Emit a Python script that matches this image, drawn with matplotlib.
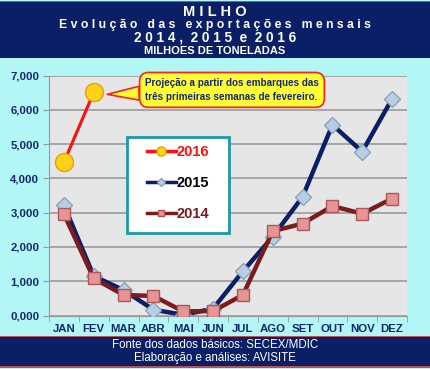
import matplotlib
matplotlib.use("Agg")
import matplotlib.pyplot as plt
from matplotlib.patches import Rectangle
from matplotlib.ticker import FixedLocator, FuncFormatter

months = ["JAN", "FEV", "MAR", "ABR", "MAI", "JUN", "JUL", "AGO", "SET", "OUT", "NOV", "DEZ"]
y2016 = [4.47, 6.51]
y2015 = [3.22, 1.15, 0.74, 0.17, 0.02, 0.20, 1.29, 2.30, 3.46, 5.56, 4.78, 6.32]
y2014 = [2.96, 1.08, 0.60, 0.57, 0.12, 0.13, 0.60, 2.46, 2.68, 3.19, 2.97, 3.41]
yticks = [0, 1, 2, 3, 4, 5, 6, 7]

plt.rcParams['font.family'] = ['Liberation Sans', 'DejaVu Sans']

W, H = 430, 369
fig = plt.figure(figsize=(W/100, H/100), dpi=100)
fig.patch.set_facecolor('#b2f6f6')

navy = '#0a1f66'
# top banner
fig.patches.append(Rectangle((0, 1 - 58/H), 1, 56/H, transform=fig.transFigure,
                             facecolor=navy, edgecolor='none', zorder=0))
fig.patches.append(Rectangle((0, 1 - 2/H), 1, 1.5/H, transform=fig.transFigure,
                             facecolor='#c0504d', edgecolor='none', zorder=0))
# bottom banner
fig.patches.append(Rectangle((0, 3/H), 1, 29/H, transform=fig.transFigure,
                             facecolor=navy, edgecolor='none', zorder=0))
fig.patches.append(Rectangle((0, 32/H), 1, 1.5/H, transform=fig.transFigure,
                             facecolor='#c0504d', edgecolor='none', zorder=0))
fig.patches.append(Rectangle((0, 1.5/H), 1, 1.5/H, transform=fig.transFigure,
                             facecolor='#c0504d', edgecolor='none', zorder=0))

def ftxt(y, s, size, **kw):
    fig.text(0.5, 1 - y/H, s, ha='center', va='center', color='white',
             fontsize=size, fontweight='bold', **kw)

ftxt(12.5, "M I L H O", 10.5)
ftxt(25, "E v o l u ç ã o   d a s   e x p o r t a ç õ e s   m e n s a i s", 8.8)
ftxt(38, "2 0 1 4 ,  2 0 1 5  e  2 0 1 6", 9.8)
ftxt(50.5, "MILHOES DE TONELADAS", 8)

fig.text(0.5, 1 - 345/H, "Fonte dos dados básicos: SECEX/MDIC", ha='center', va='center',
         color='white', fontsize=8.3)
fig.text(0.5, 1 - 358/H, "Elaboração e análises: AVISITE", ha='center', va='center',
         color='white', fontsize=8.3)

ax = fig.add_axes([49/W, 1 - 315.5/H, (407-49)/W, (315.5-75.5)/H])
ax.set_facecolor('#e6e6e6')
x = list(range(len(months)))

l16, = ax.plot(x[:len(y2016)], y2016, color='#ff1010', lw=2.2, marker='o', ms=13,
               mfc='#ffd21a', mec='#e8a000', mew=1, zorder=5, label='2016')
l15, = ax.plot(x, y2015, color='#0b1f66', lw=3.2, marker='D', ms=8,
               mfc='#b8cfe3', mec='#8aa4bd', mew=1, zorder=4, label='2015')
l14, = ax.plot(x, y2014, color='#7a1c1c', lw=3.2, marker='s', ms=8.5,
               mfc='#e89494', mec='#a85a5a', mew=1, zorder=4, label='2014')

ax.set_xlim(-0.5, len(months) - 0.5)
ax.set_ylim(0, 7)
ax.yaxis.set_major_locator(FixedLocator(yticks))
ax.yaxis.set_major_formatter(FuncFormatter(lambda v, p: f"{v:.3f}".replace('.', ',')))
ax.set_xticks(x)
ax.set_xticklabels(months)
ax.set_xticks([i - 0.5 for i in range(len(months) + 1)], minor=True)
ax.tick_params(axis='x', which='major', length=0, pad=6, labelsize=8.2, labelcolor='#14286e')
ax.tick_params(axis='x', which='minor', length=4, color='#999999', direction='out')
ax.tick_params(axis='y', length=4, color='#999999', labelsize=8.2, labelcolor='#14286e', pad=3)
for lab in ax.get_xticklabels() + ax.get_yticklabels():
    lab.set_fontweight('bold')
ax.grid(axis='y', color='#a0a0a0', lw=1.3, zorder=1)
ax.set_axisbelow(True)
for side in ['top', 'right']:
    ax.spines[side].set_visible(False)
for side in ['left', 'bottom']:
    ax.spines[side].set_color('#999999')

# legend box (frame drawn separately)
axw, axh = 407 - 49, 315.5 - 75.5
bx0, bx1, by0, by1 = 127, 229, 137, 233
ax.add_patch(Rectangle(((bx0-49)/axw, (315.5-by1)/axh), (bx1-bx0)/axw, (by1-by0)/axh,
                       transform=ax.transAxes, facecolor='white', edgecolor='#1a9aa6',
                       lw=2, zorder=9))
leg = ax.legend(handles=[l16, l15, l14], labelcolor=['#ff1010', 'black', '#7a1c1c'],
                loc='center', bbox_to_anchor=((178-49)/axw, (315.5-183)/axh),
                frameon=False, prop={'weight': 'bold', 'size': 10.5}, labelspacing=1.15,
                borderpad=0, handlelength=2.0, handletextpad=0.05, markerscale=0.5,
                borderaxespad=0)
leg.set_zorder(10)
for h in leg.legend_handles:
    h.set_linewidth(2.5)

ax.annotate("Projeção a partir dos embarques das\ntrês primeiras semanas de fevereiro.",
            xy=(1.45, 6.45), xytext=(2.72, 6.58), ha='left', va='center',
            fontsize=7.1, fontweight='bold', color='#14286e', zorder=11, linespacing=1.5,
            bbox=dict(boxstyle='round,pad=0.55,rounding_size=0.9', fc='#ffff33', ec='#ff2020', lw=1.2),
            arrowprops=dict(arrowstyle='wedge,tail_width=1.4,shrink_factor=0.5',
                            fc='#ffff33', ec='#ff2020', lw=1.2, shrinkA=0, shrinkB=0))

fig.savefig('out.png', dpi=100, facecolor=fig.get_facecolor())
